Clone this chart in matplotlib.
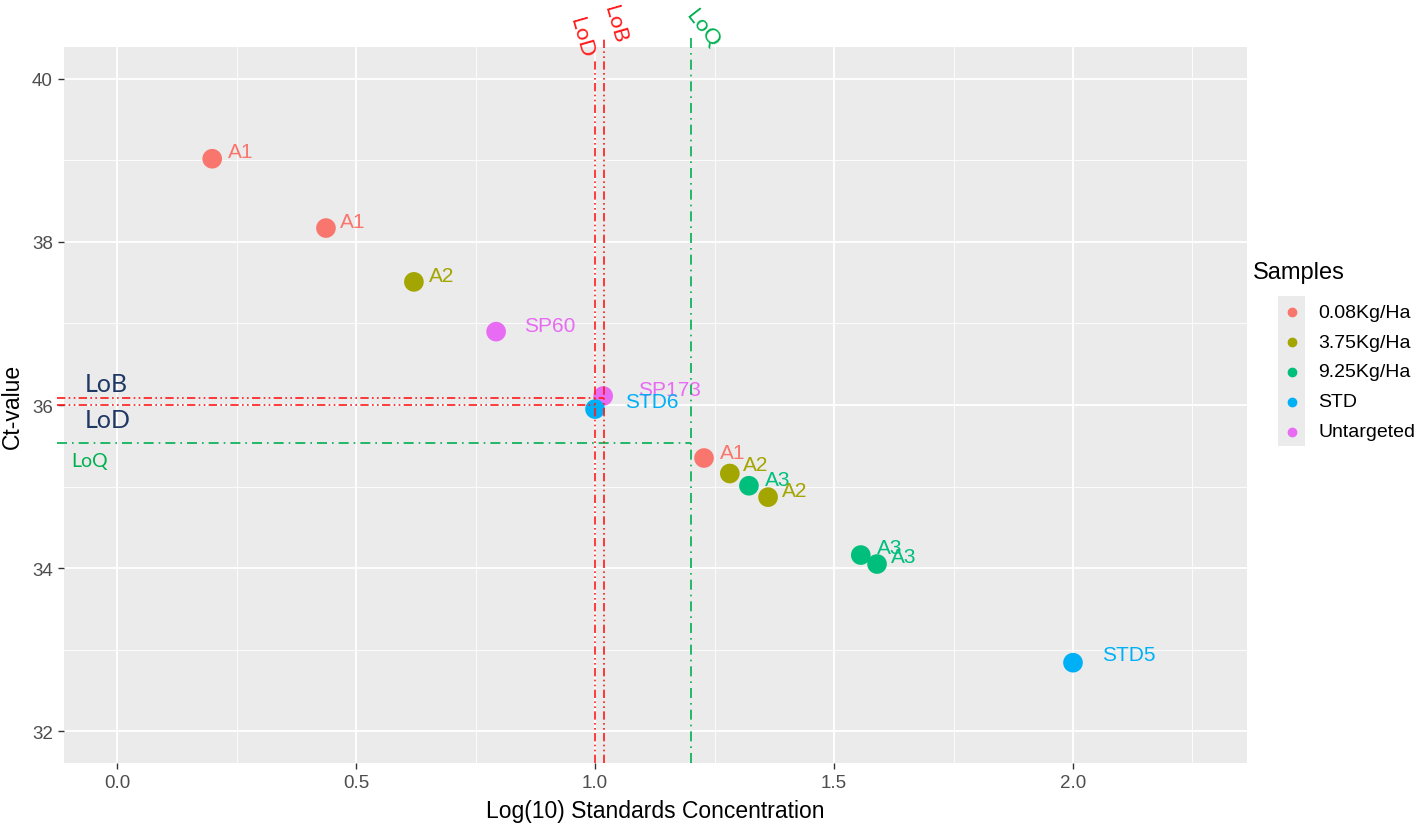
import numpy as np
import matplotlib.pyplot as plt
from matplotlib.lines import Line2D
from matplotlib.patches import Rectangle

plt.rcParams['font.family'] = ['Liberation Sans', 'DejaVu Sans']

# data
groups = ['0.08Kg/Ha', '3.75Kg/Ha', '9.25Kg/Ha', 'STD', 'Untargeted']
colors = ['#F8766D', '#A3A500', '#00BF7D', '#00B0F6', '#E76BF3']

labels = ['A1', 'A1', 'A2', 'SP60', 'SP173', 'STD6', 'A1', 'A2', 'A3', 'A2', 'A3', 'A3', 'STD5']
group_of = [0, 0, 1, 4, 4, 3, 0, 1, 2, 1, 2, 2, 3]
log_conc = [0.199, 0.437, 0.621, 0.793, 1.017, 1.0, 1.228, 1.282, 1.322, 1.362, 1.556, 1.590, 2.0]
ct = [39.02, 38.17, 37.51, 36.90, 36.11, 35.95, 35.35, 35.16, 35.01, 34.87, 34.16, 34.05, 32.84]

lob_x, lod_x, loq_x = 1.019, 1.0, 1.201
lob_y, lod_y, loq_y = 36.08, 36.0, 35.54

# text label offsets in pixels (repel-ish)
offsets = [(16, 7), (14, 7), (15, 6), (28, 6), (35, 7), (30, 8), (16, 6),
           (13, 9), (16, 6), (14, 7), (16, 8), (14, 8), (29, 8)]

fig = plt.figure(figsize=(14.17, 8.28), dpi=100)
ax = fig.add_axes([0.0452, 0.0773, 0.8348, 0.8647])
ax.set_facecolor('#EBEBEB')
for s in ax.spines.values():
    s.set_visible(False)

ax.set_xlim(-0.111, 2.364)
ax.set_ylim(31.61, 40.39)
ax.set_xticks([0.0, 0.5, 1.0, 1.5, 2.0])
ax.set_xticklabels(['0.0', '0.5', '1.0', '1.5', '2.0'])
ax.set_yticks([32, 34, 36, 38, 40])
ax.set_xticks([0.25, 0.75, 1.25, 1.75, 2.25], minor=True)
ax.set_yticks([33, 35, 37, 39], minor=True)
ax.grid(which='major', color='white', lw=1.3)
ax.grid(which='minor', color='white', lw=0.6)
ax.set_axisbelow(True)
ax.tick_params(which='major', length=4, width=1, color='#333333', labelsize=13.5,
               labelcolor='#4D4D4D', pad=4)
ax.tick_params(which='minor', length=0)

ax.set_xlabel('Log(10) Standards Concentration', fontsize=16.5, color='black', labelpad=6)
ax.set_ylabel('Ct-value', fontsize=16.5, color='black', labelpad=6)

for i in range(len(labels)):
    c = colors[group_of[i]]
    ax.scatter(log_conc[i], ct[i], s=200, color=c, edgecolors='none', zorder=3)
    ax.annotate(labels[i], (log_conc[i], ct[i]), xytext=offsets[i],
                textcoords='offset pixels', color=c, fontsize=15,
                ha='left', va='center', zorder=4)

red = '#FF1A1A'
green = '#00B050'
ddot = (0, (5, 2, 1, 2, 1, 2))
gdot = (0, (6, 3, 1, 3))

# horizontal limit lines
ax.plot([-0.126, lob_x], [lob_y, lob_y], color=red, lw=1.2, ls=ddot, clip_on=False, zorder=5)
ax.plot([-0.126, lod_x], [lod_y, lod_y], color=red, lw=1.2, ls=ddot, clip_on=False, zorder=5)
ax.plot([-0.126, loq_x], [loq_y, loq_y], color=green, lw=1.2, ls=gdot, clip_on=False, zorder=5)

# vertical limit lines
ax.plot([lod_x, lod_x], [31.61, 40.24], color=red, lw=1.2, ls=ddot, clip_on=False, zorder=5)
ax.plot([lob_x, lob_x], [31.61, 40.49], color=red, lw=1.2, ls=ddot, clip_on=False, zorder=5)
ax.plot([loq_x, loq_x], [31.61, 40.51], color=green, lw=1.2, ls=gdot, clip_on=False, zorder=5)

fam = ['Lato', 'DejaVu Sans']
fig.text(581 / 1417, 1 - 38 / 828, 'LoD', color=red, fontsize=16, rotation=-74,
         ha='center', va='center', family=fam)
fig.text(615 / 1417, 1 - 25 / 828, 'LoB', color=red, fontsize=16, rotation=-74,
         ha='center', va='center', family=fam)
fig.text(703 / 1417, 1 - 29 / 828, 'LoQ', color=green, fontsize=16, rotation=-52,
         ha='center', va='center', family=fam)

navy = '#1F3864'
fig.text(85 / 1417, 1 - 385 / 828, 'LoB', color=navy, fontsize=18, ha='left', va='center', family=fam)
fig.text(85 / 1417, 1 - 421 / 828, 'LoD', color=navy, fontsize=18, ha='left', va='center', family=fam)
fig.text(71 / 1417, 1 - 462 / 828, 'LoQ', color=green, fontsize=14, ha='left', va='center', family=fam)

# legend
fig.text(1253 / 1417, 1 - 273 / 828, 'Samples', fontsize=17, ha='left', va='center')
fig.patches.append(Rectangle((1278 / 1417, 1 - 447 / 828), 27 / 1417, 150 / 828,
                             transform=fig.transFigure, facecolor='#EBEBEB',
                             edgecolor='none', zorder=0))
for k, g in enumerate(groups):
    yk = 1 - (313 + 30 * k) / 828
    fig.add_artist(Line2D([1291.5 / 1417], [yk], marker='o', markersize=6,
                          color=colors[k], transform=fig.transFigure))
    fig.text(1318 / 1417, yk, g, fontsize=14, ha='left', va='center')

fig.savefig('out.png', dpi=100)
